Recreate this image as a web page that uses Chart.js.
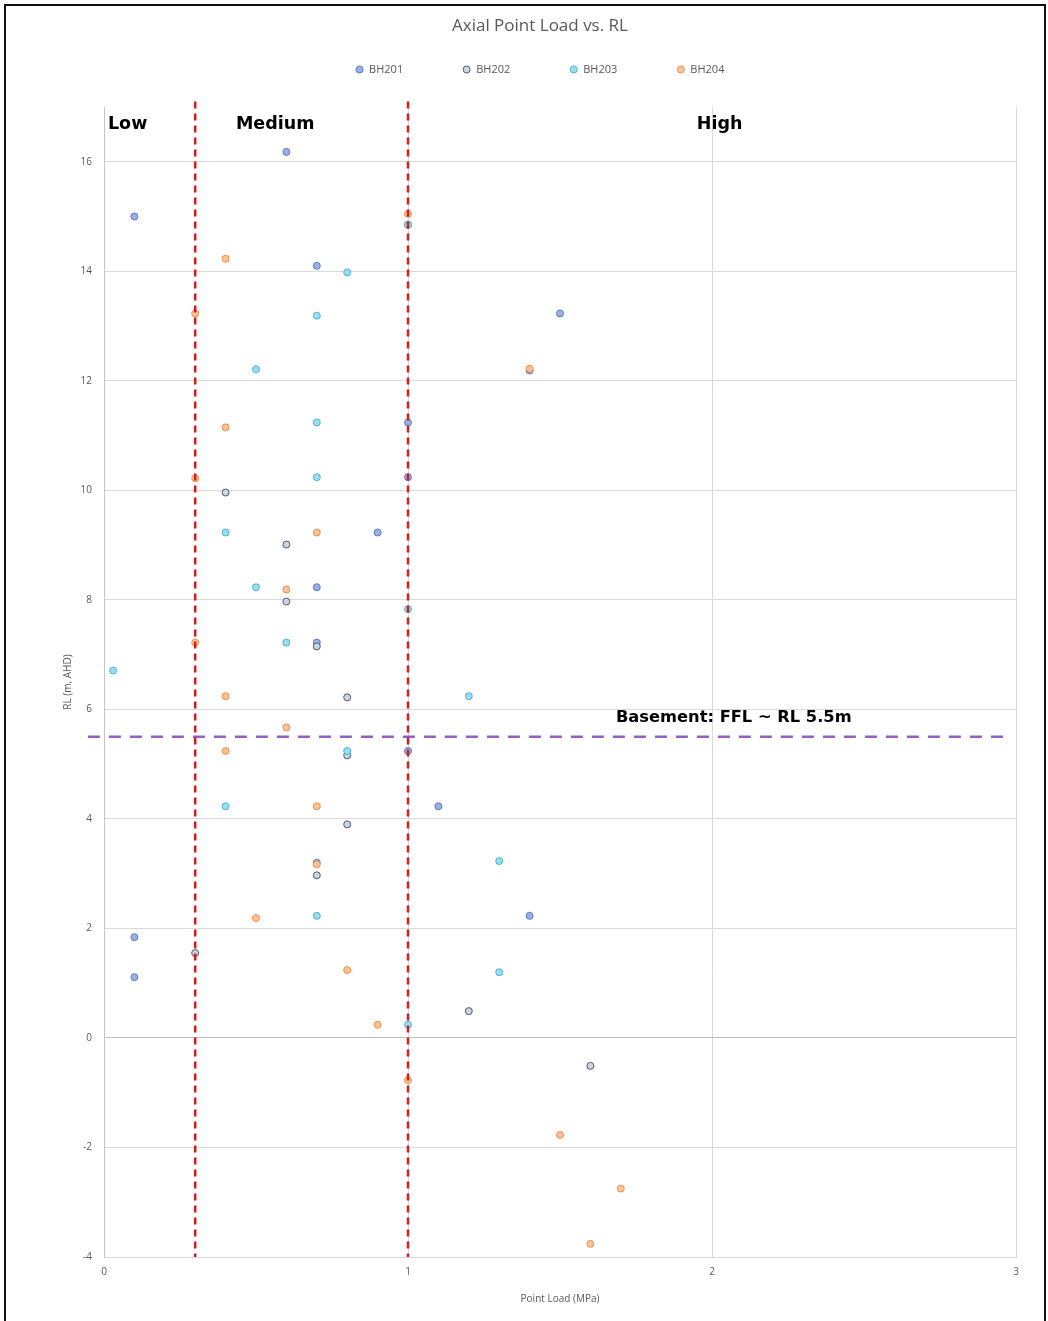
<!DOCTYPE html>
<html>
<head>
<meta charset="utf-8">
<title>Axial Point Load vs. RL</title>
<script src="https://cdn.jsdelivr.net/npm/chart.js@4/dist/chart.umd.min.js"></script>
<style>
  html, body { margin: 0; padding: 0; background: #fff; overflow: hidden; }
  #frame { position: absolute; left: 4px; top: 4px; width: 1038px; height: 1317px;
           border: 2px solid #111; border-bottom: none; }
  #wrap { position: absolute; left: 0; top: 0; width: 1048px; height: 1321px; }
</style>
</head>
<body>
<div id="frame"></div>
<div id="wrap"><canvas id="c" width="1048" height="1321"></canvas></div>
<script>
// Axial point load test results (MPa) against reduced level (m, AHD), per borehole
const BH201_load = [0.6, 0.1, 0.7, 1.5, 1.4, 1.0, 1.0, 0.9, 0.7, 0.7, 1.0, 1.1, 0.7, 1.4, 0.1, 0.1];
const BH201_rl   = [16.18, 15.0, 14.1, 13.23, 12.19, 11.24, 10.24, 9.23, 8.23, 7.22, 5.24, 4.23, 3.2, 2.23, 1.84, 1.11];

const BH202_load = [1.0, 0.4, 0.6, 0.6, 0.7, 0.8, 0.8, 0.8, 0.7, 0.3, 1.2, 1.6];
const BH202_rl   = [14.85, 9.96, 9.01, 7.97, 7.15, 6.22, 5.16, 3.9, 2.97, 1.55, 0.49, -0.51];

const BH203_load = [1.0, 0.8, 0.7, 0.5, 0.7, 0.7, 0.4, 0.5, 0.6, 1.0, 0.03, 1.2, 0.8, 0.4, 1.3, 0.7, 1.3, 1.0];
const BH203_rl   = [14.85, 13.98, 13.19, 12.21, 11.24, 10.24, 9.23, 8.23, 7.22, 7.83, 6.71, 6.24, 5.24, 4.23, 3.23, 2.23, 1.2, 0.24];

const BH204_load = [1.0, 0.4, 0.3, 1.4, 0.4, 0.3, 0.7, 0.6, 0.3, 0.4, 0.6, 0.4, 0.7, 0.7, 0.5, 0.8, 0.9, 1.0, 1.5, 1.7, 1.6];
const BH204_rl   = [15.05, 14.23, 13.23, 12.22, 11.15, 10.22, 9.23, 8.19, 7.22, 6.24, 5.67, 5.24, 4.23, 3.17, 2.19, 1.24, 0.24, -0.77, -1.77, -2.75, -3.76];

const boreholes = ['BH201', 'BH202', 'BH203', 'BH204'];

// Strength class boundaries (MPa) and the basement finished floor level (m, AHD)
const zoneBounds = [0.3, 1.0];
const zoneNames = ['Low', 'Medium', 'High'];
const basementRL = 5.5;

// Axis ranges and tick steps
const xTicks = { min: 0, max: 3, step: 1 };
const yTicks = { min: -4, max: 17, step: 2 };

// Where the boundary lines run and where the text sits, in axis units
const boundaryTop = 17.1;
const basementFrom = -0.053, basementTo = 2.974;
const zoneLabelX = [0.013, 0.434, 1.95];
const zoneLabelY = 16.69;
const basementLabelX = 1.684, basementLabelY = 5.84;

const toPoints = (xs, ys) => xs.map((v, i) => ({ x: v, y: ys[i] }));

const markerStyle = {
  BH201: { fill: '#98b0e2', edge: '#5a7bc6' },
  BH202: { fill: '#cfd5df', edge: '#4a5a73' },
  BH203: { fill: '#9edbee', edge: '#48b5d3' },
  BH204: { fill: '#f9c39a', edge: '#ee8e46' }
};

const series = [
  [BH201_load, BH201_rl],
  [BH202_load, BH202_rl],
  [BH203_load, BH203_rl],
  [BH204_load, BH204_rl]
];

const pointSets = boreholes.map((name, i) => ({
  type: 'scatter',
  label: name,
  data: toPoints(series[i][0], series[i][1]),
  backgroundColor: markerStyle[name].fill,
  borderColor: markerStyle[name].edge,
  borderWidth: 1,
  pointRadius: 3.5,
  pointHoverRadius: 3.5,
  order: boreholes.length - i
}));

const boundarySets = zoneBounds.map(b => ({
  type: 'line',
  label: 'boundary ' + b,
  data: [{ x: b, y: boundaryTop }, { x: b, y: yTicks.min }],
  borderColor: '#d11c1c',
  borderWidth: 2.5,
  borderDash: [7, 5],
  pointRadius: 0,
  fill: false,
  clip: false,
  order: 0
}));

const basementSet = {
  type: 'line',
  label: 'basement',
  data: [{ x: basementFrom, y: basementRL }, { x: basementTo, y: basementRL }],
  borderColor: '#9160c4',
  borderWidth: 2.5,
  borderDash: [12, 9],
  pointRadius: 0,
  fill: false,
  clip: false,
  order: 0
};

const basementText = 'Basement: FFL ~ RL ' + basementRL + 'm';

// Bold strength-class and basement captions placed through the scales
const captionPlugin = {
  id: 'captions',
  afterDatasetsDraw(chart) {
    const { ctx, scales: { x, y } } = chart;
    ctx.save();
    ctx.fillStyle = '#000';
    ctx.textAlign = 'left';
    ctx.textBaseline = 'middle';
    ctx.font = 'bold 17.5px "DejaVu Sans"';
    zoneNames.forEach((t, i) => {
      ctx.fillText(t, x.getPixelForValue(zoneLabelX[i]), y.getPixelForValue(zoneLabelY));
    });
    ctx.font = 'bold 16.3px "DejaVu Sans"';
    ctx.fillText(basementText, x.getPixelForValue(basementLabelX), y.getPixelForValue(basementLabelY));
    ctx.restore();
  }
};

const grey = '#595959';
const tickFont = { family: '"Open Sans"', size: 10 };

new Chart(document.getElementById('c'), {
  type: 'scatter',
  data: { datasets: [...pointSets, ...boundarySets, basementSet] },
  options: {
    responsive: false,
    animation: false,
    devicePixelRatio: 1,
    layout: { padding: { left: 64, right: 32, top: 0, bottom: 13 } },
    plugins: {
      title: {
        display: true,
        text: 'Axial Point Load vs. RL',
        color: grey,
        font: { family: '"Open Sans"', size: 17, weight: 'normal' },
        padding: { top: 16, bottom: -31.9 }
      },
      legend: {
        display: true,
        position: 'top',
        labels: {
          usePointStyle: true,
          pointStyle: 'circle',
          boxWidth: 8,
          boxHeight: 5,
          padding: 59.5,
          color: grey,
          font: { family: '"Open Sans"', size: 11 },
          filter: item => item.datasetIndex < boreholes.length,
          sort: (a, b) => a.datasetIndex - b.datasetIndex
        }
      },
      subtitle: {
        display: true,
        text: '',
        weight: 500,
        font: { size: 10 },
        padding: { top: 5, bottom: 5 }
      },
      tooltip: { enabled: false }
    },
    scales: {
      x: {
        type: 'linear',
        min: xTicks.min,
        max: xTicks.max,
        ticks: { stepSize: xTicks.step, color: grey, font: tickFont, padding: 9 },
        grid: { color: '#d9d9d9', drawTicks: false },
        border: { color: '#d9d9d9' },
        title: {
          display: true,
          text: 'Point Load (MPa)',
          color: grey,
          font: tickFont,
          padding: { top: 0, bottom: 3 }
        },
        afterFit: s => { s.height = 51; }
      },
      y: {
        type: 'linear',
        min: yTicks.min,
        max: yTicks.max,
        ticks: { stepSize: yTicks.step, includeBounds: false, color: grey, font: tickFont, padding: 12 },
        grid: {
          color: c => (c.tick && c.tick.value === 0 ? '#bdbdbd' : '#d9d9d9'),
          drawTicks: false
        },
        border: { color: '#c4c4c4' },
        title: {
          display: true,
          text: 'RL (m, AHD)',
          color: grey,
          font: tickFont,
          padding: { top: -2, bottom: 0 }
        },
        afterFit: s => { s.width = 40; }
      }
    }
  },
  plugins: [captionPlugin]
});
</script>
</body>
</html>
